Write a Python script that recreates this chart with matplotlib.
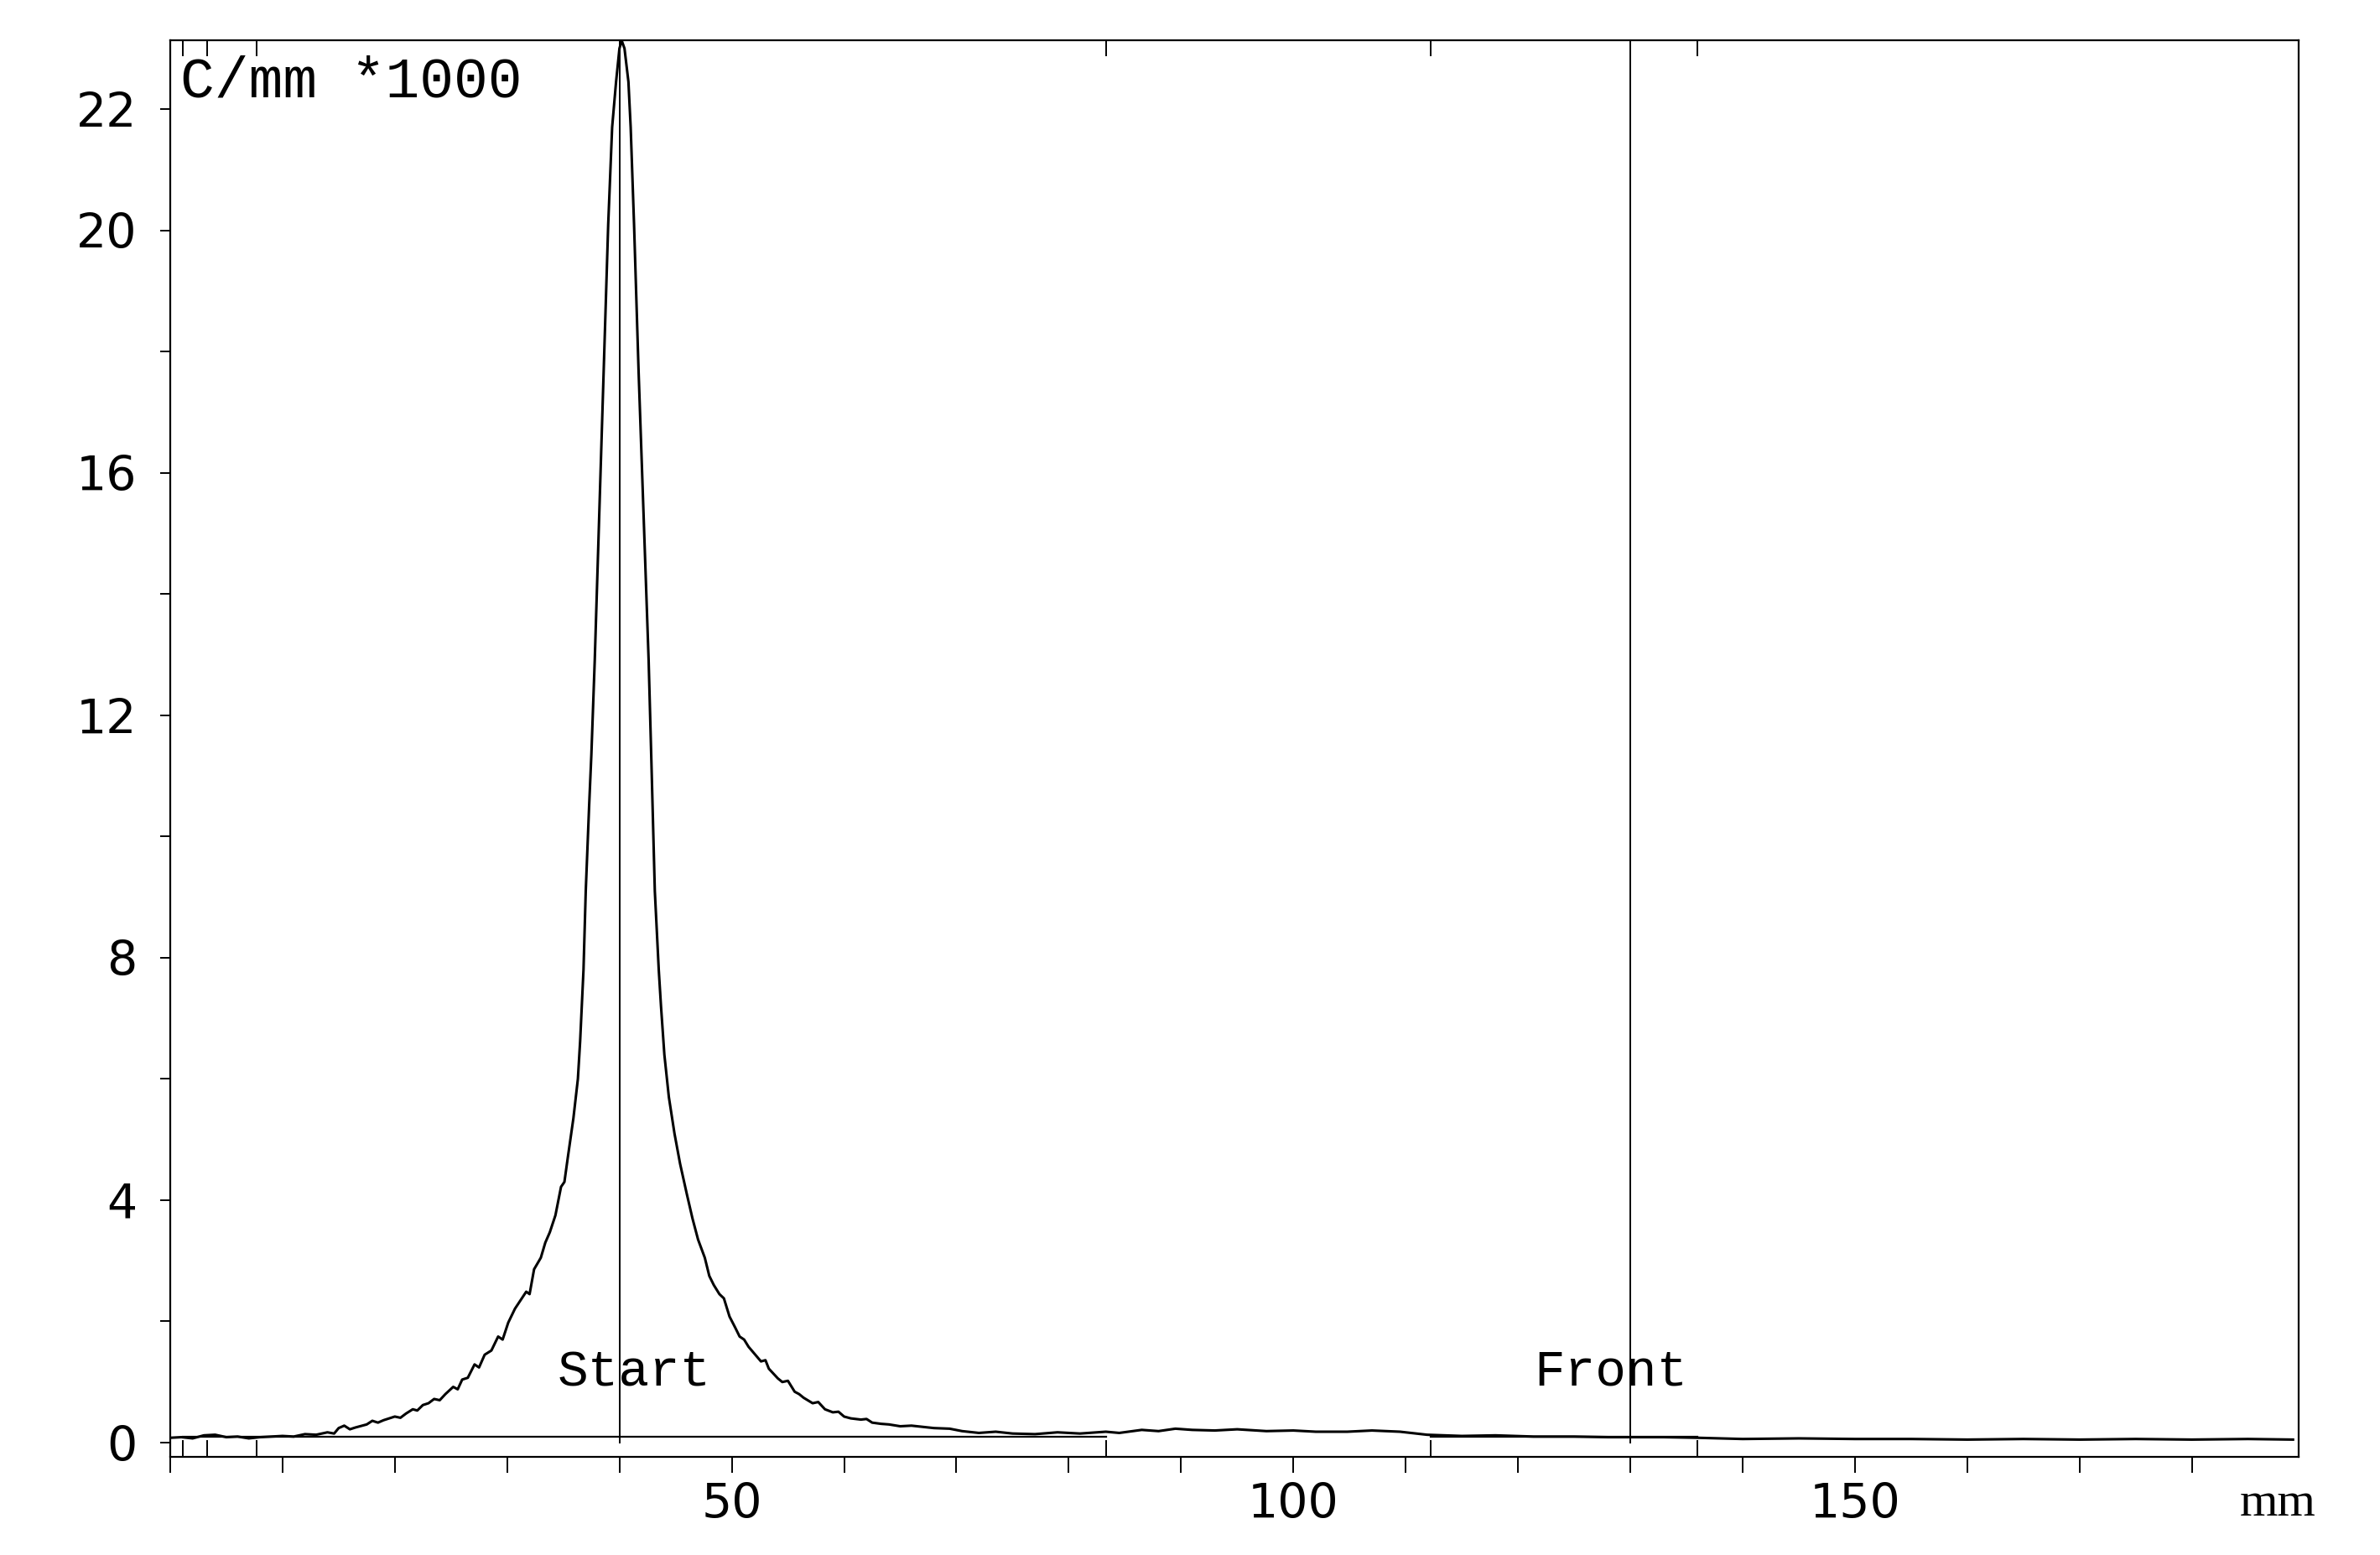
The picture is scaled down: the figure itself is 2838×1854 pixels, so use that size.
import matplotlib
matplotlib.use("Agg")
import matplotlib.pyplot as plt
from matplotlib.ticker import FixedLocator, NullFormatter

# densitogram (mm, C/mm *1000)
pos = [0.0, 1.0, 2.0, 3.0, 4.0, 5.0, 6.0, 7.0, 8.0, 9.0, 10.0, 11.0, 12.0, 13.0,
       14.0, 14.6, 15.0, 15.5, 16.0, 16.5, 17.5, 18.0, 18.5, 19.0, 20.0, 20.5,
       21.0, 21.6, 22.0, 22.5, 23.0, 23.5, 24.0, 24.5, 25.2, 25.6, 26.0, 26.5,
       27.1, 27.5, 28.0, 28.6, 29.2, 29.6, 30.1, 30.7, 31.2, 31.7, 32.0, 32.4,
       33.0, 33.4, 33.8, 34.3, 34.8, 35.1, 35.4, 35.9, 36.3, 36.5, 36.8, 37.0,
       37.3, 37.5, 37.8, 38.2, 38.6, 39.0, 39.35, 39.7, 40.0, 40.2, 40.45, 40.8,
       41.0, 41.3, 41.7, 42.15, 42.6, 42.85, 43.15, 43.5, 43.7, 44.0, 44.4, 44.9,
       45.4, 46.0, 46.5, 47.0, 47.6, 48.0, 48.4, 48.9, 49.3, 49.8, 50.3, 50.7,
       51.1, 51.5, 52.1, 52.6, 53.0, 53.3, 54.1, 54.5, 55.0, 55.6, 56.0, 56.4,
       57.2, 57.7, 58.3, 59.0, 59.5, 60.0, 60.6, 61.5, 62.0, 62.5, 63.3, 64.0,
       65.0, 66.0, 67.0, 68.0, 69.4, 70.5, 72.0, 73.5, 75.0, 77.0, 79.0, 81.0,
       83.3, 84.5, 86.5, 88.0, 89.5, 91.0, 93.0, 95.0, 97.6, 100.0, 102.0, 104.8,
       107.0, 109.5, 111.9, 115.0, 118.0, 121.4, 125.0, 128.0, 130.9, 133.0,
       136.0, 140.0, 145.0, 150.0, 155.0, 160.0, 165.0, 170.0, 175.0, 180.0,
       185.0, 189.0]
conc = [0.08, 0.09, 0.07, 0.12, 0.13, 0.09, 0.10, 0.07, 0.09, 0.10, 0.11, 0.10,
        0.14, 0.13, 0.17, 0.15, 0.24, 0.28, 0.22, 0.25, 0.30, 0.36, 0.33, 0.37,
        0.43, 0.41, 0.48, 0.55, 0.53, 0.62, 0.65, 0.72, 0.70, 0.80, 0.92, 0.88,
        1.04, 1.07, 1.29, 1.24, 1.45, 1.52, 1.75, 1.70, 1.98, 2.21, 2.35, 2.49,
        2.45, 2.86, 3.05, 3.30, 3.47, 3.75, 4.22, 4.30, 4.70, 5.35, 6.00, 6.62,
        7.80, 9.10, 10.5, 11.35, 12.9, 15.3, 17.7, 20.1, 21.7, 22.45, 23.0, 23.13,
        23.0, 22.45, 21.7, 20.1, 17.7, 15.3, 12.9, 11.2, 9.10, 7.80, 7.20, 6.40,
        5.70, 5.10, 4.60, 4.10, 3.70, 3.35, 3.05, 2.75, 2.60, 2.45, 2.38, 2.08,
        1.90, 1.75, 1.70, 1.58, 1.45, 1.34, 1.36, 1.22, 1.06, 1.00, 1.02, 0.84,
        0.80, 0.74, 0.65, 0.67, 0.55, 0.50, 0.51, 0.43, 0.40, 0.38, 0.39, 0.33,
        0.31, 0.30, 0.27, 0.28, 0.26, 0.24, 0.23, 0.19, 0.16, 0.18, 0.15, 0.14,
        0.17, 0.15, 0.18, 0.16, 0.21, 0.19, 0.23, 0.21, 0.20, 0.22, 0.19, 0.20,
        0.18, 0.18, 0.20, 0.18, 0.13, 0.11, 0.12, 0.10, 0.10, 0.09, 0.09, 0.09,
        0.08, 0.06, 0.07, 0.06, 0.06, 0.05, 0.06, 0.05, 0.06, 0.05, 0.06, 0.05]

start_mm = 40.0
front_mm = 130.0
bounds = [1.1, 3.3, 7.7, 83.3, 112.2, 136.0]   # peak limits
baselines = [(1.1, 83.3, 0.1), (112.2, 136.0, 0.1)]
y_ticks = [0, 2, 4, 6, 8, 10, 12, 14, 16, 18, 20, 22]
y_labels = ["0", "", "4", "", "8", "", "12", "", "16", "", "20", "22"]

mono = "Liberation Mono"
tickfont = "DejaVu Sans"

fig = plt.figure(figsize=(14.19, 9.27), dpi=200, facecolor="white")
ax = fig.add_axes([0.0715, 0.0633, 0.8943, 0.911])
ax.set_xlim(0, 189.5)
ax.set_ylim(-0.23, 23.14)

ax.plot(pos, conc, color="black", lw=1.1)

for x0, x1, yb in baselines:
    ax.plot([x0, x1], [yb, yb], color="black", lw=0.8)

for b in bounds:
    ax.plot([b, b], [0.03, -0.23], color="black", lw=0.7)
    ax.plot([b, b], [23.14, 22.89], color="black", lw=0.7)

ax.plot([start_mm, start_mm], [0, 23.14], color="black", lw=0.7)
ax.plot([front_mm, front_mm], [0, 23.14], color="black", lw=0.7)

ax.text(41.3, 0.94, "Start", family=mono, fontsize=22, ha="center", va="baseline")
ax.text(128.3, 0.95, "Front", family=mono, fontsize=22, ha="center", va="baseline")
ax.text(0.9, 22.2, "C/mm *1000", family=mono, fontsize=24.5, ha="left", va="baseline")

ax.xaxis.set_major_locator(FixedLocator([50, 100, 150]))
ax.xaxis.set_minor_locator(FixedLocator([0, 10, 20, 30, 40, 60, 70, 80, 90, 110,
                                         120, 130, 140, 160, 170, 180]))
ax.xaxis.set_minor_formatter(NullFormatter())
ax.tick_params(axis="x", which="both", direction="out", length=7, width=0.7,
               pad=4, labelsize=20.5)
ax.set_yticks(y_ticks)
ax.set_yticklabels(y_labels)
ax.tick_params(axis="y", direction="out", length=4.3, width=0.7, pad=10,
               labelsize=20.5)
for lab in ax.get_xticklabels() + ax.get_yticklabels():
    lab.set_family(tickfont)

for s in ax.spines.values():
    s.set_linewidth(0.8)

fig.text(2762 / 2838, 1 - 1807 / 1854, "mm", family="Liberation Serif",
         fontsize=21, ha="right", va="baseline")

fig.savefig("out.png", dpi=200, facecolor="white")
